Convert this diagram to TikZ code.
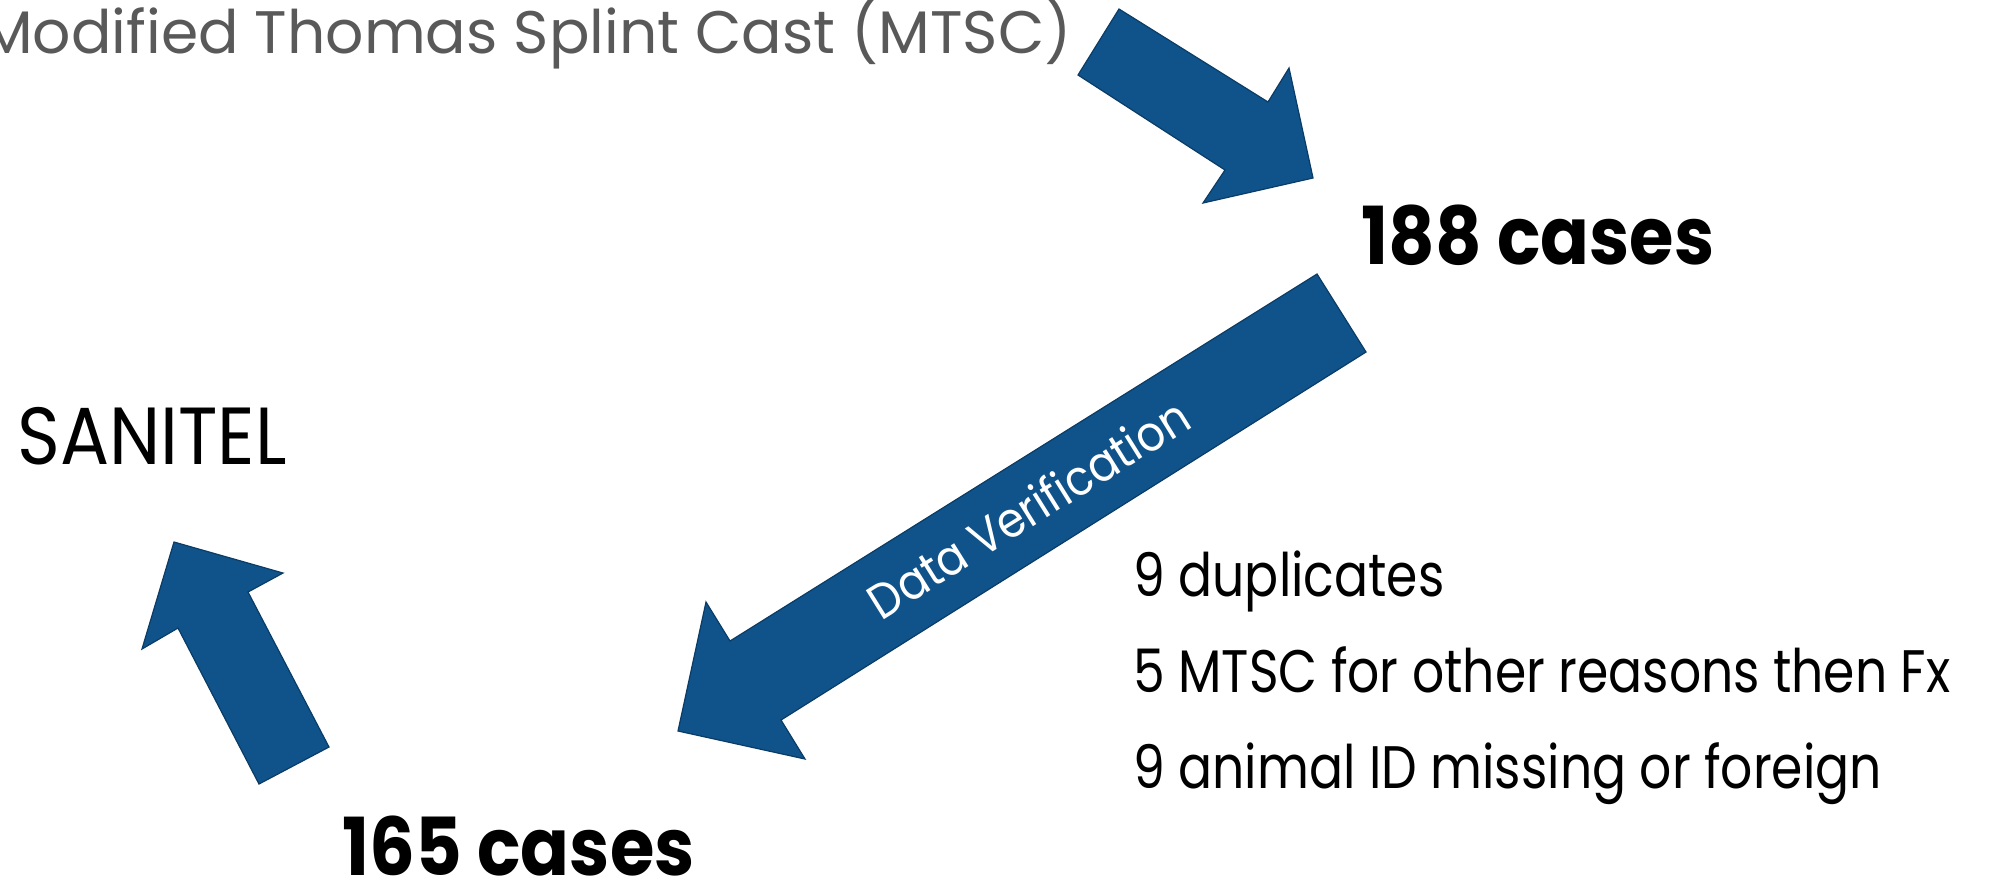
\documentclass[tikz,border=0pt]{standalone}
\usepackage{fontspec}
\setmainfont{Poppins}[FakeStretch=0.9]
\newfontfamily\titlefont{Poppins}
\newfontfamily\listfont{Poppins}[FakeStretch=0.84]
\usetikzlibrary{positioning}
\definecolor{arrowblue}{RGB}{15,83,138}
\definecolor{arrowedge}{RGB}{10,60,102}
\definecolor{titlegray}{RGB}{89,89,89}

\begin{document}
\begin{tikzpicture}[x=0.5pt,y=-0.5pt,
    every node/.style={inner sep=0pt},
    blockarrow/.style={fill=arrowblue,draw=arrowedge,line width=0.6pt},
    heading/.style={font=\titlefont\fontsize{30}{36}\selectfont,text=titlegray},
    count/.style={font=\fontsize{40}{48}\selectfont\bfseries},
    listitem/.style={font=\listfont\fontsize{30}{36}\selectfont}]
        \useasboundingbox (0,0) rectangle (1989,880);
        % block arrows
        \draw[blockarrow] (1119,9) -- (1268,102) -- (1289,68) -- (1313,178) -- (1203,203) -- (1225,170) -- (1078,75) -- cycle;
        \draw[blockarrow] (1317,274) -- (1366,352) -- (781,720) -- (805,759) -- (678,731) -- (706,602) -- (730,641) -- cycle;
        \draw[blockarrow] (329,747) -- (259,784) -- (178,628) -- (142,649) -- (174,542) -- (283,573) -- (248,592) -- cycle;
        % texts
        \node(title) [heading,anchor=base east] at (1072,53) {Modified Thomas Splint Cast (MTSC)};
        \node(C188) [count,anchor=base west] at (1361,264) {188 cases};
        \node(san) [font=\fontsize{40.5}{48}\selectfont,anchor=base west] at (17,464) {SANITEL};
        \node(C165) [count,anchor=base west] at (342,875) {165 cases};
        \node(verif) [font=\fontsize{24.5}{29}\selectfont,text=white,rotate=32] at (1028,508) {Data Verification};
        \node(dup) [listitem,anchor=base west] at (1133,596) {9 duplicates};
        \node(other) [listitem,below=48pt of dup.base west,anchor=base west] {5 MTSC for other reasons then Fx};
        \node(miss) [listitem,below=48pt of other.base west,anchor=base west] {9 animal ID missing or foreign};
    \end{tikzpicture}
\end{document}
